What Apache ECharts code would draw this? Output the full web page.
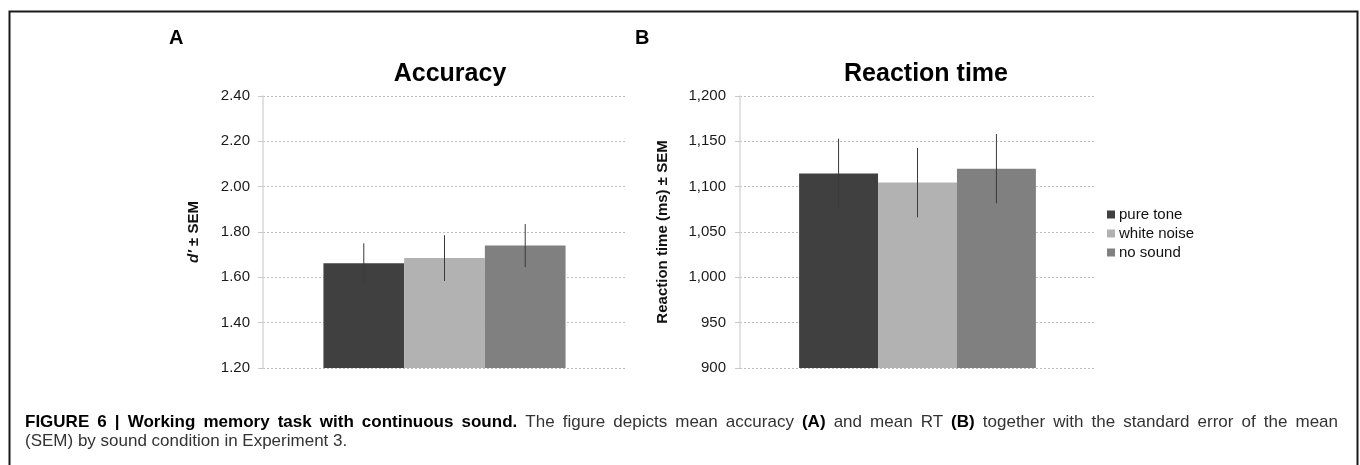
<!DOCTYPE html>
<html>
<head>
<meta charset="utf-8">
<script src="https://cdn.jsdelivr.net/npm/echarts@6/dist/echarts.min.js"></script>
<style>
html,body{margin:0;padding:0;background:#fff;}
#chart{width:1360px;height:465px;}
</style>
</head>
<body>
<div id="chart"></div>
<script>
// ---- data ----
const conditions = ['pure tone', 'white noise', 'no sound'];
const colors = ['#404040', '#b2b2b2', '#808080'];
const accMean = [1.662, 1.685, 1.740];
const accSem = [0.088, 0.101, 0.095];
const rtMean = [1114.5, 1104.5, 1119.8];
const rtSem = [38.5, 38.3, 38.3];
const accTicks = { min: 1.2, max: 2.4, interval: 0.2 };
const rtTicks = { min: 900, max: 1200, interval: 50 };

// caption: [text, bold?]
const captionLine1 = [
  ['FIGURE 6 | Working memory task with continuous sound.', true],
  ['The figure depicts mean accuracy', false],
  ['(A)', true],
  ['and mean RT', false],
  ['(B)', true],
  ['together with the standard error of the mean', false]
];
const captionLine2 = '(SEM) by sound condition in Experiment 3.';

const FONT = '"Liberation Sans", Arial, Helvetica, sans-serif';
const GAP = 0.333;
const CAP_SIZE = 17;

const chart = echarts.init(document.getElementById('chart'), null, { renderer: 'canvas' });

// justify caption line 1 between x=25 and x=1338
function justifiedRich() {
  const cv = document.createElement('canvas').getContext('2d');
  const words = [];
  captionLine1.forEach(([t, b]) => t.split(' ').forEach(w => words.push([w, b])));
  let total = 0;
  words.forEach(([w, b]) => {
    cv.font = (b ? 'bold ' : '') + CAP_SIZE + 'px ' + FONT;
    total += cv.measureText(w).width;
  });
  const sp = (1338 - 25 - total) / (words.length - 1);
  let s = '';
  words.forEach(([w, b], i) => {
    s += '{' + (b ? 'b' : 'r') + '|' + w + '}';
    if (i < words.length - 1) s += '{s| }';
  });
  return { text: s, sp: sp };
}
const just = justifiedRich();

function errSeries(gridIdx, means, sems) {
  return means.map((m, i) => ({
    type: 'custom',
    xAxisIndex: gridIdx, yAxisIndex: gridIdx,
    silent: true, z: 5,
    data: [[0, m - sems[i], m + sems[i]]],
    renderItem: function (params, api) {
      const lo = api.coord([api.value(0), api.value(1)]);
      const hi = api.coord([api.value(0), api.value(2)]);
      const band = api.size([1, 0])[0];
      const bw = band * (1 - GAP) / 3;
      const off = (i - 1) * bw;
      return {
        type: 'line',
        shape: { x1: lo[0] + off, y1: lo[1], x2: hi[0] + off, y2: hi[1] },
        style: { stroke: '#3a3a3a', lineWidth: 1 }
      };
    }
  }));
}

function barSeries(gridIdx, means) {
  return means.map((m, i) => ({
    type: 'bar', name: conditions[i],
    xAxisIndex: gridIdx, yAxisIndex: gridIdx,
    barGap: '0%', barCategoryGap: (GAP * 100) + '%',
    itemStyle: { color: colors[i] },
    data: [m]
  }));
}

function yAxis(gridIdx, t, name, nameGap, margin, fmt) {
  return {
    type: 'value', gridIndex: gridIdx,
    min: t.min, max: t.max, interval: t.interval,
    axisLine: { show: true, lineStyle: { color: '#d9d9d9', width: 1.5 } },
    axisTick: { show: true, length: 5, lineStyle: { color: '#c8c8c8' } },
    axisLabel: { color: '#1a1a1a', fontSize: 15, fontFamily: FONT, margin: margin, formatter: fmt },
    splitLine: { show: true, lineStyle: { color: '#bdbdbd', type: [2, 2], width: 1 } },
    name: name, nameLocation: 'middle', nameGap: nameGap, nameRotate: 90,
    nameTextStyle: {
      fontSize: 15, fontWeight: 'bold', fontFamily: FONT, color: '#111',
      rich: { i: { fontStyle: 'italic', fontWeight: 'bold', fontSize: 15, fontFamily: FONT, color: '#111' } }
    }
  };
}

function xAxis(gridIdx) {
  return {
    type: 'category', gridIndex: gridIdx, data: [''],
    axisLine: { show: false }, axisTick: { show: false }, axisLabel: { show: false },
    splitLine: { show: false }
  };
}

const option = {
  animation: false,
  textStyle: { fontFamily: FONT },
  title: [
    { text: 'Accuracy', left: 445, top: 57, textAlign: 'center',
      textStyle: { fontSize: 25, fontWeight: 'bold', fontFamily: FONT, color: '#000' } },
    { text: 'Reaction time', left: 921, top: 57, textAlign: 'center',
      textStyle: { fontSize: 25, fontWeight: 'bold', fontFamily: FONT, color: '#000' } }
  ],
  legend: {
    orient: 'vertical', left: 1102, top: 202,
    data: conditions, icon: 'rect', itemWidth: 8, itemHeight: 8, itemGap: 4,
    selectedMode: false,
    textStyle: { fontSize: 15, lineHeight: 15, fontFamily: FONT, color: '#111', padding: [0, 0, 0, -1] }
  },
  grid: [
    { left: 263, top: 96, width: 363, height: 272, containLabel: false },
    { left: 740, top: 96, width: 355, height: 272, containLabel: false }
  ],
  xAxis: [xAxis(0), xAxis(1)],
  yAxis: [
    yAxis(0, accTicks, '{i|d′} ± SEM', 62, 13, v => v.toFixed(2)),
    yAxis(1, rtTicks, 'Reaction time (ms) ± SEM', 70, 14, v => v.toLocaleString('en-US'))
  ],
  series: [].concat(
    barSeries(0, accMean), barSeries(1, rtMean),
    errSeries(0, accMean, accSem), errSeries(1, rtMean, rtSem)
  ),
  graphic: [
    { type: 'rect', left: 7, top: 9, silent: true,
      shape: { width: 1348, height: 500 },
      style: { fill: 'none', stroke: '#1a1a1a', lineWidth: 2 } },
    { type: 'text', x: 169, y: 38, silent: true,
      style: { text: 'A', fontSize: 20, fontWeight: 'bold', fontFamily: FONT, fill: '#000', verticalAlign: 'middle' } },
    { type: 'text', x: 635, y: 38, silent: true,
      style: { text: 'B', fontSize: 20, fontWeight: 'bold', fontFamily: FONT, fill: '#000', verticalAlign: 'middle' } },
    { type: 'text', x: 25, y: 422, silent: true,
      style: {
        text: just.text,
        verticalAlign: 'middle',
        rich: {
          b: { fontSize: CAP_SIZE, fontWeight: 'bold', fontFamily: FONT, fill: '#000' },
          r: { fontSize: CAP_SIZE, fontFamily: FONT, fill: '#333' },
          s: { fontSize: CAP_SIZE, fontFamily: FONT, width: just.sp }
        }
      } },
    { type: 'text', x: 25, y: 441, silent: true,
      style: { text: captionLine2, verticalAlign: 'middle',
        fontSize: CAP_SIZE, fontFamily: FONT, fill: '#333' } }
  ]
};

chart.setOption(option);
</script>
</body>
</html>
